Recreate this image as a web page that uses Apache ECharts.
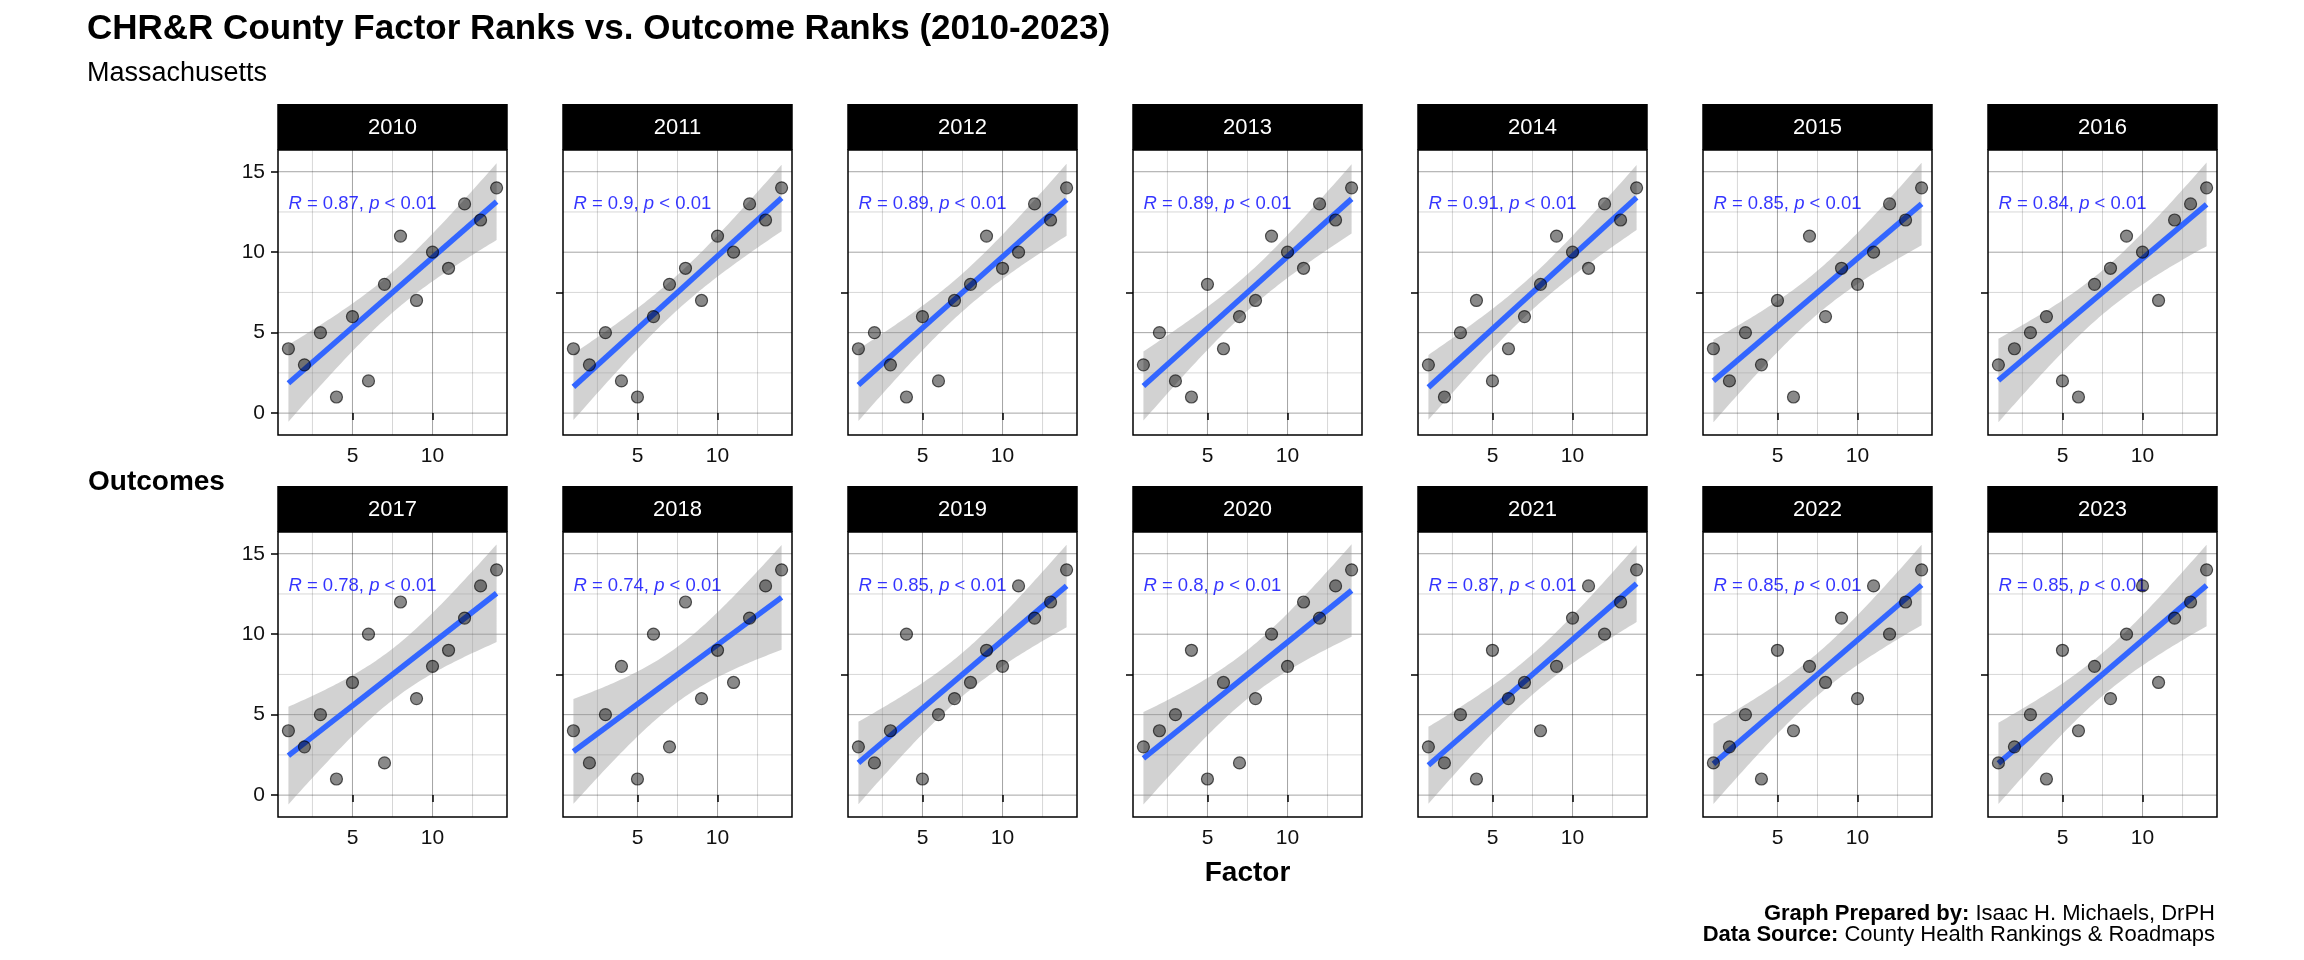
<!DOCTYPE html>
<html>
<head>
<meta charset="utf-8">
<script src="https://cdn.jsdelivr.net/npm/echarts@6/dist/echarts.min.js"></script>
<style>
html,body{margin:0;padding:0;background:#ffffff;}
#chart{width:2304px;height:960px;}
</style>
</head>
<body>
<div id="chart"></div>
<script>
// ---------------- DATA ----------------
const years = ['2010','2011','2012','2013','2014','2015','2016',
               '2017','2018','2019','2020','2021','2022','2023'];
const factorRanks = [1,2,3,4,5,6,7,8,9,10,11,12,13,14];

const outcomes2010 = [4,3,5,1,6,2,8,11,7,10,9,13,12,14];
const outcomes2011 = [4,3,5,2,1,6,8,9,7,11,10,13,12,14];
const outcomes2012 = [4,5,3,1,6,2,7,8,11,9,10,13,12,14];
const outcomes2013 = [3,5,2,1,8,4,6,7,11,10,9,13,12,14];
const outcomes2014 = [3,1,5,7,2,4,6,8,11,10,9,13,12,14];
const outcomes2015 = [4,2,5,3,7,1,11,6,9,8,10,13,12,14];
const outcomes2016 = [3,4,5,6,2,1,8,9,11,10,7,12,13,14];
const outcomes2017 = [4,3,5,1,7,10,2,12,6,8,9,11,13,14];
const outcomes2018 = [4,2,5,8,1,10,3,12,6,9,7,11,13,14];
const outcomes2019 = [3,2,4,10,1,5,6,7,9,8,13,11,12,14];
const outcomes2020 = [3,4,5,9,1,7,2,6,10,8,12,11,13,14];
const outcomes2021 = [3,2,5,1,9,6,7,4,8,11,13,10,12,14];
const outcomes2022 = [2,3,5,1,9,4,8,7,11,6,13,10,12,14];
const outcomes2023 = [2,3,5,1,9,4,8,6,10,13,7,11,12,14];

const rValues = ['0.87','0.9','0.89','0.89','0.91','0.85','0.84',
                 '0.78','0.74','0.85','0.8','0.87','0.85','0.85'];
const pText = '< 0.01';

const xTickValues = [5, 10];
const yTickValues = [0, 5, 10, 15];
const xMinorValues = [2.5, 7.5, 12.5];
const yMinorValues = [2.5, 7.5, 12.5];

const titleText = 'CHR&R County Factor Ranks vs. Outcome Ranks (2010-2023)';
const subtitleText = 'Massachusetts';
const xAxisTitle = 'Factor';
const yAxisTitle = 'Outcomes';
const captionLine1 = ['Graph Prepared by:', ' Isaac H. Michaels, DrPH'];
const captionLine2 = ['Data Source:', ' County Health Rankings & Roadmaps'];

// ---------------- SETTINGS ----------------
const outcomeSeries = [outcomes2010, outcomes2011, outcomes2012, outcomes2013, outcomes2014,
  outcomes2015, outcomes2016, outcomes2017, outcomes2018, outcomes2019, outcomes2020,
  outcomes2021, outcomes2022, outcomes2023];

const FONT = '"Liberation Sans", Arial, Helvetica, sans-serif';
const LAYOUT = { left0: 278, top0: 150, dx: 285, dy: 382, w: 229, h: 285, stripH: 46, cols: 7 };
const X_MIN = 0.35, X_MAX = 14.65, Y_MIN = -1.36, Y_MAX = 16.35;
const ANNOT_Y = 13;
const MAJOR_COL = 'rgba(0,0,0,0.36)';
const MINOR_COL = 'rgba(0,0,0,0.16)';

// geom_smooth(method = "lm") equivalent: OLS fit and 95% confidence band from the points
function tQuantile975(df) {
  const table = {10: 2.228139, 11: 2.200985, 12: 2.178813, 13: 2.160369, 14: 2.144787};
  return table[df] || 1.96;
}
function lmBand(xs, ys, nPts) {
  const n = xs.length;
  const mx = xs.reduce((a, b) => a + b, 0) / n;
  const my = ys.reduce((a, b) => a + b, 0) / n;
  let sxx = 0, sxy = 0;
  for (let i = 0; i < n; i++) { sxx += (xs[i] - mx) ** 2; sxy += (xs[i] - mx) * (ys[i] - my); }
  const b = sxy / sxx, a = my - b * mx;
  let sse = 0;
  for (let i = 0; i < n; i++) sse += (ys[i] - (a + b * xs[i])) ** 2;
  const s = Math.sqrt(sse / (n - 2));
  const t = tQuantile975(n - 2);
  const x0 = Math.min(...xs), x1 = Math.max(...xs);
  const xsOut = [], lo = [], hi = [];
  for (let k = 0; k < nPts; k++) {
    const x = x0 + (x1 - x0) * k / (nPts - 1);
    const yhat = a + b * x;
    const se = s * Math.sqrt(1 / n + (x - mx) ** 2 / sxx);
    xsOut.push(x); lo.push(yhat - t * se); hi.push(yhat + t * se);
  }
  return { a, b, x0, x1, xs: xsOut, lo, hi };
}

const grids = [], xAxes = [], yAxes = [], series = [], graphics = [];

years.forEach((yr, k) => {
  const col = k % LAYOUT.cols, row = Math.floor(k / LAYOUT.cols);
  const left = LAYOUT.left0 + col * LAYOUT.dx;
  const top = LAYOUT.top0 + row * LAYOUT.dy;
  grids.push({ left, top, width: LAYOUT.w, height: LAYOUT.h, show: true,
    borderColor: '#000', borderWidth: 1.5, backgroundColor: 'rgba(0,0,0,0)', containLabel: false });

  xAxes.push({ type: 'value', gridIndex: k, min: X_MIN, max: X_MAX,
    axisLine: { show: false }, splitLine: { show: false },
    axisTick: { show: true, customValues: xTickValues, length: 7, lineStyle: { color: '#000', width: 1.5 } },
    axisLabel: { show: true, customValues: xTickValues, color: '#111', fontSize: 21, fontFamily: FONT, margin: 11 } });

  const firstCol = col === 0;
  yAxes.push({ type: 'value', gridIndex: k, min: Y_MIN, max: Y_MAX,
    axisLine: { show: false }, splitLine: { show: false },
    axisTick: { show: true, customValues: firstCol ? yTickValues : [7.5], length: 7,
      lineStyle: { color: '#000', width: 1.5 } },
    axisLabel: { show: firstCol, customValues: yTickValues, color: '#111', fontSize: 21, fontFamily: FONT, margin: 13 } });

  // grid lines (behind everything)
  const hData = yTickValues.map(v => [X_MIN, v, 1]).concat(yMinorValues.map(v => [X_MIN, v, 0]));
  const vData = xTickValues.map(v => [v, Y_MIN, 1]).concat(xMinorValues.map(v => [v, Y_MIN, 0]));
  series.push({ type: 'custom', xAxisIndex: k, yAxisIndex: k, z: 1, silent: true,
    encode: { x: 0, y: 1 }, data: hData,
    renderItem: (params, api) => {
      const cs = params.coordSys;
      const y = api.coord([X_MIN, api.value(1)])[1];
      return { type: 'line', shape: { x1: cs.x, y1: y, x2: cs.x + cs.width, y2: y },
        style: { stroke: api.value(2) ? MAJOR_COL : MINOR_COL, lineWidth: 1 } };
    } });
  series.push({ type: 'custom', xAxisIndex: k, yAxisIndex: k, z: 1, silent: true,
    encode: { x: 0, y: 1 }, data: vData,
    renderItem: (params, api) => {
      const cs = params.coordSys;
      const x = api.coord([api.value(0), Y_MIN])[0];
      return { type: 'line', shape: { x1: x, y1: cs.y, x2: x, y2: cs.y + cs.height },
        style: { stroke: api.value(2) ? MAJOR_COL : MINOR_COL, lineWidth: 1 } };
    } });

  const ys = outcomeSeries[k];
  const band = lmBand(factorRanks, ys, 80);

  // confidence ribbon
  series.push({ type: 'custom', xAxisIndex: k, yAxisIndex: k, z: 2, silent: true,
    encode: { x: 0, y: 1 }, data: band.xs.map((x, i) => [x, band.lo[i], band.hi[i]]),
    renderItem: (params, api) => {
      if (params.dataIndex !== 0) return null;
      const pts = [];
      for (let i = 0; i < band.xs.length; i++) pts.push(api.coord([band.xs[i], band.hi[i]]));
      for (let i = band.xs.length - 1; i >= 0; i--) pts.push(api.coord([band.xs[i], band.lo[i]]));
      return { type: 'polygon', shape: { points: pts }, style: { fill: 'rgba(153,153,153,0.44)' } };
    } });

  // fitted line
  series.push({ type: 'line', xAxisIndex: k, yAxisIndex: k, z: 3, silent: true,
    symbol: 'none', data: [[band.x0, band.a + band.b * band.x0], [band.x1, band.a + band.b * band.x1]],
    lineStyle: { color: '#3366FF', width: 5.5, cap: 'butt' } });

  // correlation annotation
  series.push({ type: 'scatter', xAxisIndex: k, yAxisIndex: k, z: 4, silent: true,
    symbolSize: 0, data: [[factorRanks[0], ANNOT_Y]],
    label: { show: true, position: 'right', distance: 0,
      formatter: () => '{i|R} = ' + rValues[k] + ', {i|p} ' + pText,
      color: '#0000FF', fontSize: 18.5, fontFamily: FONT,
      rich: { i: { fontStyle: 'italic', color: '#0000FF', fontSize: 18.5, fontFamily: FONT } } } });

  // points
  series.push({ type: 'scatter', xAxisIndex: k, yAxisIndex: k, z: 5, silent: true,
    symbol: 'circle', symbolSize: 12,
    data: factorRanks.map((x, i) => [x, ys[i]]),
    itemStyle: { color: 'rgba(0,0,0,0.58)', borderColor: 'rgba(0,0,0,0.8)', borderWidth: 1.2 } });

  // strip
  graphics.push({ type: 'rect', shape: { x: left - 0.75, y: top - LAYOUT.stripH, width: LAYOUT.w + 1.5, height: LAYOUT.stripH },
    style: { fill: '#000' }, silent: true });
  graphics.push({ type: 'text', x: left + LAYOUT.w / 2, y: top - LAYOUT.stripH / 2 + 0.5, silent: true,
    style: { text: yr, fill: '#ffffff', font: '22px ' + FONT, textAlign: 'center', textVerticalAlign: 'middle',
      align: 'center', verticalAlign: 'middle' } });
});

// titles and axis titles
graphics.push({ type: 'text', x: 87, y: 29, silent: true,
  style: { text: titleText, fill: '#000', font: 'bold 35px ' + FONT, textAlign: 'left', textVerticalAlign: 'middle', align: 'left', verticalAlign: 'middle' } });
graphics.push({ type: 'text', x: 87, y: 74, silent: true,
  style: { text: subtitleText, fill: '#000', font: '27px ' + FONT, textAlign: 'left', textVerticalAlign: 'middle', align: 'left', verticalAlign: 'middle' } });
graphics.push({ type: 'text', x: 88, y: 482, silent: true,
  style: { text: yAxisTitle, fill: '#000', font: 'bold 28px ' + FONT, textAlign: 'left', textVerticalAlign: 'middle', align: 'left', verticalAlign: 'middle' } });
graphics.push({ type: 'text', x: 1247.5, y: 873, silent: true,
  style: { text: xAxisTitle, fill: '#000', font: 'bold 28px ' + FONT, textAlign: 'center', textVerticalAlign: 'middle', align: 'center', verticalAlign: 'middle' } });

// caption (right aligned, bold lead-in)
[captionLine1, captionLine2].forEach((ln, i) => {
  graphics.push({ type: 'text', x: 2215, y: 914 + i * 21, silent: true,
    style: { text: '{b|' + ln[0] + '}{n|' + ln[1] + '}',
      rich: { b: { font: 'bold 22px ' + FONT, fill: '#000' }, n: { font: '22px ' + FONT, fill: '#000' } },
      font: '22px ' + FONT, fill: '#000',
      textAlign: 'right', textVerticalAlign: 'middle', align: 'right', verticalAlign: 'middle' } });
});

const option = {
  animation: false,
  backgroundColor: '#ffffff',
  grid: grids, xAxis: xAxes, yAxis: yAxes, series: series, graphic: graphics
};

const chart = echarts.init(document.getElementById('chart'), null, { renderer: 'canvas' });
chart.setOption(option);
</script>
</body>
</html>
